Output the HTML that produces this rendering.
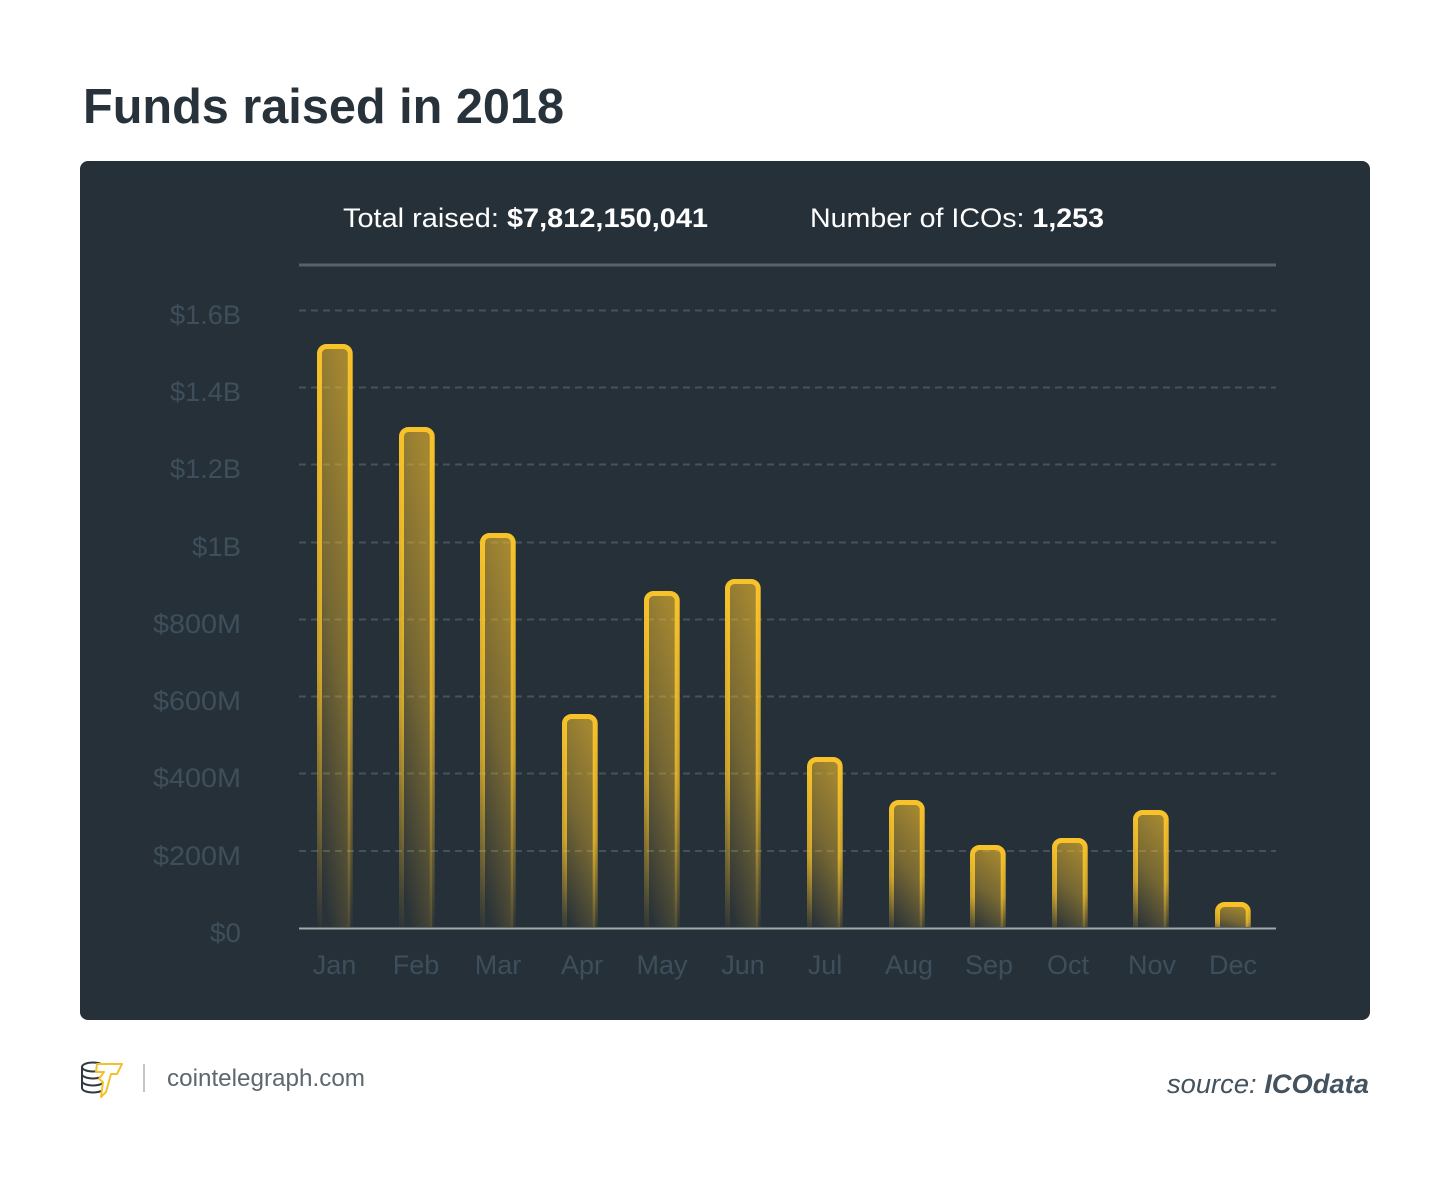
<!DOCTYPE html>
<html><head><meta charset="utf-8"><style>
html,body{margin:0;padding:0;background:#fff;}
svg{display:block;}
text{font-family:"Liberation Sans",sans-serif;}
</style></head><body>
<svg width="1450" height="1182" viewBox="0 0 1450 1182" xmlns="http://www.w3.org/2000/svg">
<defs>
<linearGradient id="bf" x1="0.65" y1="0" x2="0.35" y2="1">
<stop offset="0" stop-color="#f6c02c" stop-opacity="0.6"/>
<stop offset="0.5" stop-color="#f6c02c" stop-opacity="0.38"/>
<stop offset="1" stop-color="#f6c02c" stop-opacity="0.02"/>
</linearGradient>
<linearGradient id="bs" x1="0" y1="0" x2="0" y2="1">
<stop offset="0" stop-color="#f8c22a" stop-opacity="1"/>
<stop offset="0.55" stop-color="#f8c22a" stop-opacity="0.75"/>
<stop offset="1" stop-color="#f8c22a" stop-opacity="0"/>
</linearGradient>
<clipPath id="cl"><rect x="290" y="300" width="1000" height="627"/></clipPath>
</defs>

<text x="83" y="123" font-size="49" font-weight="bold" fill="#27323a" textLength="481" lengthAdjust="spacingAndGlyphs">Funds raised in 2018</text>

<rect x="80" y="161" width="1290" height="859" rx="8" fill="#263038"/>

<text x="343" y="227" font-size="27" fill="#ffffff" textLength="365" lengthAdjust="spacingAndGlyphs">Total raised: <tspan font-weight="bold">$7,812,150,041</tspan></text>
<text x="810" y="227" font-size="27" fill="#ffffff" textLength="294" lengthAdjust="spacingAndGlyphs">Number of ICOs: <tspan font-weight="bold">1,253</tspan></text>
<line x1="299" y1="265" x2="1276" y2="265" stroke="#56636c" stroke-width="3"/>

<g stroke="#45525b" stroke-width="2" stroke-dasharray="7 5">
<line x1="299" y1="310.5" x2="1276" y2="310.5"/>
<line x1="299" y1="387.5" x2="1276" y2="387.5"/>
<line x1="299" y1="464.5" x2="1276" y2="464.5"/>
<line x1="299" y1="542.5" x2="1276" y2="542.5"/>
<line x1="299" y1="619.5" x2="1276" y2="619.5"/>
<line x1="299" y1="696.5" x2="1276" y2="696.5"/>
<line x1="299" y1="773.5" x2="1276" y2="773.5"/>
<line x1="299" y1="851" x2="1276" y2="851"/>
</g>

<g font-size="27" fill="#3e4f5b">
<text x="170" y="324" textLength="71" lengthAdjust="spacingAndGlyphs">$1.6B</text>
<text x="170" y="401" textLength="71" lengthAdjust="spacingAndGlyphs">$1.4B</text>
<text x="170" y="478" textLength="71" lengthAdjust="spacingAndGlyphs">$1.2B</text>
<text x="192" y="556" textLength="49" lengthAdjust="spacingAndGlyphs">$1B</text>
<text x="153" y="633" textLength="88" lengthAdjust="spacingAndGlyphs">$800M</text>
<text x="153" y="710" textLength="88" lengthAdjust="spacingAndGlyphs">$600M</text>
<text x="153" y="787" textLength="88" lengthAdjust="spacingAndGlyphs">$400M</text>
<text x="153" y="865" textLength="88" lengthAdjust="spacingAndGlyphs">$200M</text>
<text x="210" y="942" textLength="31" lengthAdjust="spacingAndGlyphs">$0</text>
</g>

<g clip-path="url(#cl)" fill="url(#bf)" stroke="url(#bs)" stroke-width="5">
<rect x="319.5" y="346.5" width="30.7" height="590" rx="7"/>
<rect x="401.5" y="429.5" width="30.7" height="507" rx="7"/>
<rect x="482.5" y="535.5" width="30.7" height="401" rx="7"/>
<rect x="564.5" y="716.5" width="30.7" height="220" rx="7"/>
<rect x="646.5" y="593.5" width="30.7" height="343" rx="7"/>
<rect x="727.5" y="581.5" width="30.7" height="355" rx="7"/>
<rect x="809.5" y="759.5" width="30.7" height="177" rx="7"/>
<rect x="891.5" y="802.5" width="30.7" height="134" rx="7"/>
<rect x="972.5" y="847.5" width="30.7" height="89" rx="7"/>
<rect x="1054.5" y="840.5" width="30.7" height="96" rx="7"/>
<rect x="1135.5" y="812.5" width="30.7" height="124" rx="7"/>
<rect x="1217.5" y="904.5" width="30.7" height="32" rx="7"/>
</g>

<line x1="299" y1="928.5" x2="1276" y2="928.5" stroke="#a3a8ab" stroke-width="2"/>

<g font-size="27" fill="#3d4f5c" text-anchor="middle">
<text x="334.5" y="974">Jan</text>
<text x="416" y="974">Feb</text>
<text x="498" y="974">Mar</text>
<text x="582" y="974">Apr</text>
<text x="662" y="974">May</text>
<text x="743" y="974">Jun</text>
<text x="825" y="974">Jul</text>
<text x="909" y="974">Aug</text>
<text x="989" y="974">Sep</text>
<text x="1068" y="974">Oct</text>
<text x="1152" y="974">Nov</text>
<text x="1233" y="974">Dec</text>
</g>

<!-- logo -->
<g fill="none" stroke="#2e3940" stroke-width="2">
<ellipse cx="93" cy="1067" rx="11" ry="4.5"/>
<path d="M82 1067 v7 a11 4.5 0 0 0 22 0"/>
<path d="M82 1074 v7 a11 4.5 0 0 0 22 0"/>
<path d="M82 1081 v7 a11 4.5 0 0 0 22 0"/>
</g>
<path d="M97 1064 L122 1064 L117 1074 L111 1074 L106 1092 L101 1097 L103 1082 L99 1079 L104 1072 L96 1072 Z" fill="#ffffff" stroke="#f5c12b" stroke-width="2" stroke-linejoin="round"/>
<line x1="144" y1="1064" x2="144" y2="1092" stroke="#aab2b8" stroke-width="1.5"/>
<text x="167" y="1086" font-size="24" fill="#5c6770" textLength="198" lengthAdjust="spacingAndGlyphs">cointelegraph.com</text>

<text x="1167" y="1093" font-size="27" font-style="italic" fill="#44535e" textLength="202" lengthAdjust="spacingAndGlyphs">source: <tspan font-weight="bold">ICOdata</tspan></text>
</svg>
</body></html>
